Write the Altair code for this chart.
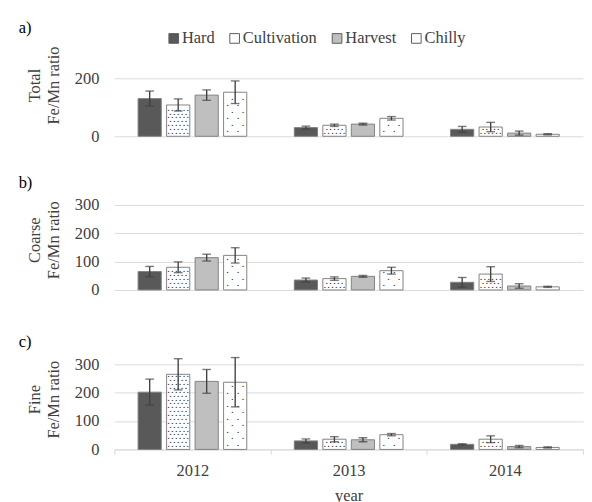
import altair as alt
import pandas as pd

years = ["2012", "2013", "2014"]
series = ["Hard", "Cultivation", "Harvest", "Chilly"]
colors = ["#595959", "#ffffff", "#bfbfbf", "#ffffff"]

# a) Total Fe/Mn ratio: mean and error half-width per year
total_hard = [130, 30, 24]
total_hard_err = [26, 5, 10]
total_cult = [108, 38, 32]
total_cult_err = [21, 4, 16]
total_harv = [142, 42, 11]
total_harv_err = [18, 3, 7]
total_chil = [152, 62, 7]
total_chil_err = [39, 6, 2]

# b) Coarse Fe/Mn ratio
coarse_hard = [65, 35, 27]
coarse_hard_err = [18, 7, 17]
coarse_cult = [80, 40, 56]
coarse_cult_err = [19, 6, 26]
coarse_harv = [114, 48, 14]
coarse_harv_err = [12, 3, 8]
coarse_chil = [122, 68, 11]
coarse_chil_err = [27, 12, 2]

# c) Fine Fe/Mn ratio
fine_hard = [202, 30, 18]
fine_hard_err = [46, 7, 2]
fine_cult = [265, 36, 36]
fine_cult_err = [55, 9, 12]
fine_harv = [240, 34, 10]
fine_harv_err = [42, 7, 4]
fine_chil = [237, 52, 7]
fine_chil_err = [87, 4, 2]

FONT = "Liberation Serif"
TXT = "#404040"
FS = 17
PLOT_W = 478
X_RANGE = 485


def make_df(means, errs):
    rows = []
    for s, m_list, e_list in zip(series, means, errs):
        for y, m, e in zip(years, m_list, e_list):
            rows.append({"year": y, "series": s, "mean": m, "lo": m - e, "hi": m + e})
    return pd.DataFrame(rows)


def make_dots(df, ppu):
    # pattern rows inside the white bars, derived from each bar's value
    spec = {"Cultivation": (2.5, 4.0), "Chilly": (4.0, 6.7)}
    rows = []
    for _, r in df.iterrows():
        if r["series"] not in spec:
            continue
        y0, sp = spec[r["series"]]
        top = r["mean"] * ppu
        k = 0
        while y0 + k * sp < top - 2:
            rows.append({"year": r["year"], "series": r["series"], "row": k % 2,
                         "v": (y0 + k * sp) / ppu})
            k += 1
    return pd.DataFrame(rows)


dot_dx = {
    ("Cultivation", 0): [-10, -6, -2, 2, 6, 10],
    ("Cultivation", 1): [-8, -4, 0, 4, 8],
    ("Chilly", 0): [-8, 3],
    ("Chilly", 1): [-3, 8],
}


def panel(means, errs, h, yvalues, ytitle, label, toff, show_x, legend):
    df = make_df(means, errs)
    dots = make_dots(df, h / 300.0)
    xscale = alt.Scale(range=[0, X_RANGE], paddingInner=0, paddingOuter=0)
    if show_x:
        xaxis = alt.Axis(labelAngle=0, labelFontSize=FS, labelColor=TXT, labelFont=FONT,
                         labelPadding=9, domainColor="#d9d9d9", tickColor="#d9d9d9",
                         tickSize=5, tickBand="extent", title="year", titleFontSize=FS,
                         titleFontWeight="normal", titleColor=TXT, titleFont=FONT,
                         titlePadding=10)
    else:
        xaxis = None
    x = alt.X("year:N", sort=years, scale=xscale, axis=xaxis)
    x_plain = alt.X("year:N", sort=years, scale=xscale, axis=None)
    xo = alt.XOffset("series:N", sort=series,
                     scale=alt.Scale(paddingInner=0.186, paddingOuter=0.834))
    yscale = alt.Scale(domain=[0, 300], nice=False)
    yaxis = alt.Axis(values=yvalues, grid=True, gridColor="#d9d9d9", gridWidth=1,
                     domain=False, ticks=False, tickSize=0, labelPadding=16,
                     labelOverlap=False, labelFlush=False,
                     labelFontSize=FS, labelColor=TXT, labelFont=FONT,
                     title=ytitle, titleFontSize=FS, titleFontWeight="normal",
                     titleColor=TXT, titleFont=FONT, titleLineHeight=20,
                     titlePadding=12, titleY=h / 2 - 8)
    bars = alt.Chart(df).mark_bar(stroke="#7f7f7f", strokeWidth=1).encode(
        x=x, xOffset=xo,
        y=alt.Y("mean:Q", scale=yscale, axis=yaxis),
        fill=alt.Fill("series:N", sort=series,
                      scale=alt.Scale(domain=series, range=colors), legend=legend),
    )
    layers = [bars]
    for (s, parity), dxs in dot_dx.items():
        for dx in dxs:
            layers.append(
                alt.Chart(dots).transform_filter(
                    (alt.datum.series == s) & (alt.datum.row == parity)
                ).mark_text(text="\u2022", fontSize=4.5, font="DejaVu Sans", dx=dx,
                            baseline="middle", color="#262626").encode(
                    x=x_plain, xOffset=xo, y=alt.Y("v:Q", scale=yscale, axis=None)
                )
            )
    rules = alt.Chart(df).mark_rule(color="#404040", strokeWidth=1.4).encode(
        x=x_plain, xOffset=xo, y=alt.Y("lo:Q", scale=yscale, axis=None), y2="hi:Q"
    )
    cap_hi = alt.Chart(df).mark_tick(color="#404040", thickness=1.4, size=9).encode(
        x=x_plain, xOffset=xo, y=alt.Y("hi:Q", scale=yscale, axis=None)
    )
    cap_lo = alt.Chart(df).mark_tick(color="#404040", thickness=1.4, size=9).encode(
        x=x_plain, xOffset=xo, y=alt.Y("lo:Q", scale=yscale, axis=None)
    )
    layers += [rules, cap_hi, cap_lo]
    return alt.layer(*layers).resolve_axis(x="independent", y="independent").properties(
        width=PLOT_W, height=h,
        title=alt.TitleParams(text=label, anchor="start", frame="group", dx=-99,
                              fontSize=FS, fontWeight="normal", font=FONT,
                              color="#000000", baseline="alphabetic", offset=toff),
    )


legend_a = alt.Legend(orient="none", legendX=53, legendY=-20, direction="horizontal",
                      title=None, symbolType="square", symbolSize=100,
                      symbolStrokeColor="#595959", symbolStrokeWidth=1,
                      labelFontSize=FS, labelFont=FONT, labelColor=TXT,
                      columnPadding=12, labelOffset=0, padding=0)

pa = panel([total_hard, total_cult, total_harv, total_chil],
           [total_hard_err, total_cult_err, total_harv_err, total_chil_err],
           90, [0, 200], ["Total", "Fe/Mn ratio"], "a)", -20, False, legend_a)
pb = panel([coarse_hard, coarse_cult, coarse_harv, coarse_chil],
           [coarse_hard_err, coarse_cult_err, coarse_harv_err, coarse_chil_err],
           88, [0, 100, 200, 300], ["Coarse", "Fe/Mn ratio"], "b)", -8, False, None)
pc = panel([fine_hard, fine_cult, fine_harv, fine_chil],
           [fine_hard_err, fine_cult_err, fine_harv_err, fine_chil_err],
           88, [0, 100, 200, 300], ["Fine", "Fe/Mn ratio"], "c)", -8, True, None)

top = alt.vconcat(pa, pb, spacing=31).resolve_legend(fill="independent")
chart = alt.vconcat(top, pc, spacing=37).resolve_legend(fill="independent").properties(
    padding={"left": 11, "top": 3, "right": 0, "bottom": 0},
    background="white",
).configure(font=FONT).configure_view(stroke=None).configure_axis(labelOverlap=False)

chart.save("out.html", embed_options={"renderer": "svg", "actions": False})
